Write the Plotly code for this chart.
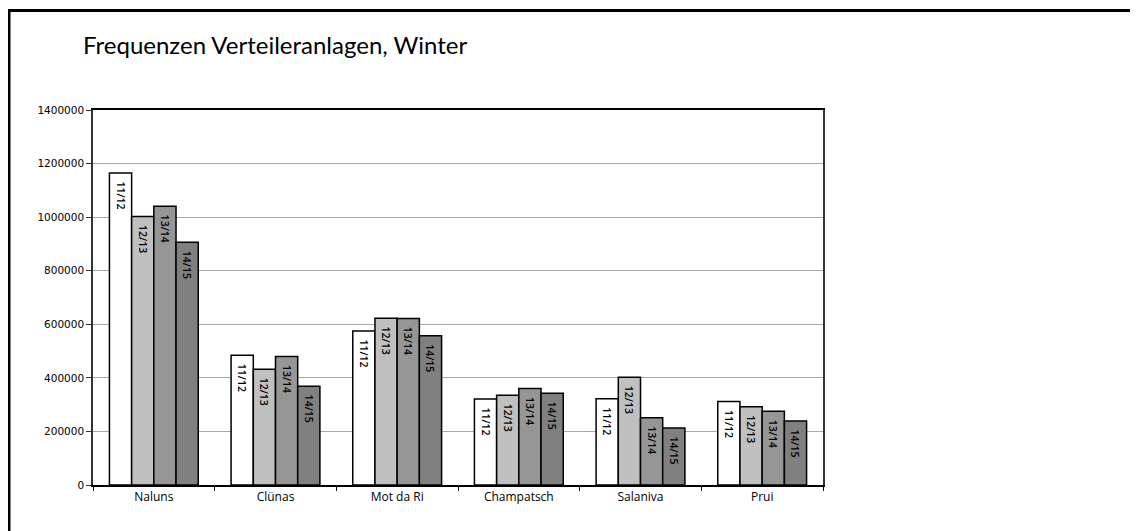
import plotly.graph_objects as go

categories = ["Naluns", "Clünas", "Mot da Ri", "Champatsch", "Salaniva", "Prui"]
seasons = ["11/12", "12/13", "13/14", "14/15"]
values_1112 = [1165000, 484000, 575000, 321000, 322000, 312000]
values_1213 = [1002000, 432000, 623000, 335000, 402000, 292000]
values_1314 = [1041000, 480000, 622000, 360000, 251000, 275000]
values_1415 = [906000, 369000, 557000, 343000, 213000, 239000]
series = [values_1112, values_1213, values_1314, values_1415]
colors = ["#ffffff", "#c0c0c0", "#969696", "#808080"]

fig = go.Figure()
for name, vals, col in zip(seasons, series, colors):
    fig.add_trace(go.Bar(
        x=categories, y=vals, name=name,
        marker=dict(color=col, line=dict(color="#000000", width=1.5)),
        text=["\u00a0\u00a0" + name] * len(vals), textposition="inside",
        insidetextanchor="end", textangle=90,
        textfont=dict(family="Open Sans", size=10.5, color="#000000", weight=600),
        cliponaxis=False,
    ))

# page body adds an 8px offset; figure is sized/positioned to compensate
OFF = 8
W, H = 1138 - OFF, 531 - OFF
L, R, T, B = 93 - OFF, 823 - OFF, 110 - OFF, 485 - OFF
fig.update_layout(
    width=W, height=H,
    margin=dict(l=L, r=W - R, t=T, b=H - B, pad=0),
    paper_bgcolor="#ffffff", plot_bgcolor="#ffffff",
    barmode="group", bargap=0.27, bargroupgap=0,
    showlegend=False,
    uniformtext=dict(minsize=10, mode="show"),
    title=dict(text="Frequenzen Verteileranlagen, Winter", x=(83 - OFF) / W, xanchor="left",
               y=1 - (46 - OFF) / H, yanchor="middle",
               font=dict(family="Lato", size=24, color="#000000")),
    font=dict(family="Open Sans", color="#000000"),
    xaxis=dict(showline=True, linecolor="#000000", linewidth=1.5, mirror=True,
               ticks="outside", tickson="boundaries", ticklen=4, tickcolor="#000000",
               tickfont=dict(family="Open Sans", size=12, color="#000000"),
               showgrid=False),
    yaxis=dict(range=[0, 1400000], dtick=200000, showline=True, linecolor="#333333",
               linewidth=1.5, mirror=True, ticks="outside", ticklen=5,
               tickcolor="#333333", showgrid=True, gridcolor="#a8a8a8", gridwidth=1,
               tickformat="d", zeroline=False,
               tickfont=dict(family="DejaVu Sans", size=10.5, color="#000000")),
)

fig.add_shape(type="rect", xref="paper", yref="paper",
              x0=(1 - L) / (R - L), x1=(1300 - L) / (R - L),
              y0=(B - 700) / (B - T), y1=(B - 2.5) / (B - T),
              line=dict(color="#000000", width=3), fillcolor="rgba(0,0,0,0)", layer="above")

fig.write_html("out.html")
